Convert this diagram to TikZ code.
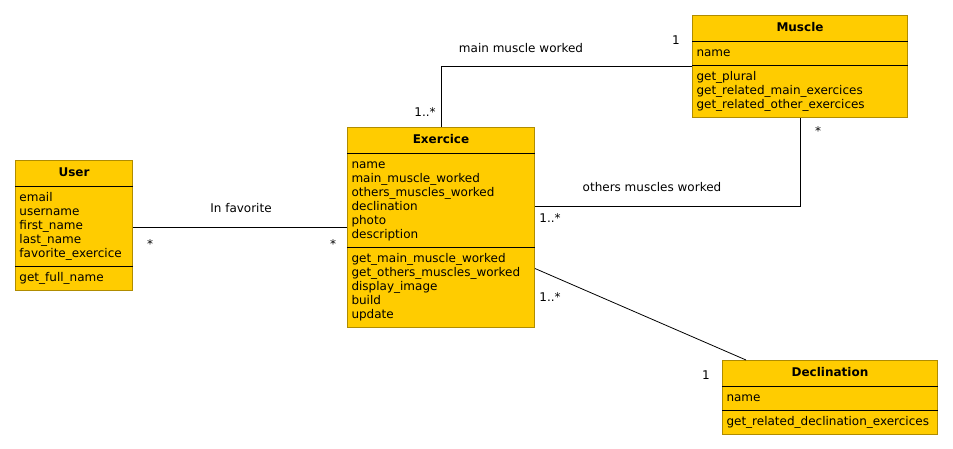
\documentclass[tikz,border=0pt]{standalone}
\usepackage{fontspec}
\setmainfont{DejaVu Sans}
\usetikzlibrary{shapes.multipart}

\definecolor{classfill}{RGB}{255,204,0}
\definecolor{classdraw}{RGB}{176,140,0}

\tikzset{
	umlclass/.style={rectangle split, rectangle split parts=3, rectangle split draw splits=false,
		draw=classdraw, fill=classfill, anchor=north west, align=left,
		inner xsep=4pt, inner ysep=4.5pt, line width=1pt, font=\fontsize{12}{14}\selectfont},
	assoc/.style={draw=black, line width=0.8pt},
	mult/.style={font=\fontsize{12}{14}\selectfont, inner sep=0pt},
}

\newcommand{\classtitle}[1]{\makebox[\hsize][c]{\rule[-5pt]{0pt}{16pt}\textbf{#1}}}

\begin{document}
\begin{tikzpicture}[x=1pt, y=-1pt]

	\useasboundingbox (0,0) rectangle (953,448);

	% CLASSES
	\node[umlclass, text width=109pt] (user) at (15,160) {\classtitle{User}
		\nodepart{second}\strut email\\ username\\ first\_name\\ last\_name\\ favorite\_exercice\strut
		\nodepart{third}\strut get\_full\_name\strut};

	\node[umlclass, text width=179pt] (exercice) at (347,127) {\classtitle{Exercice}
		\nodepart{second}\strut name\\ main\_muscle\_worked\\ others\_muscles\_worked\\ declination\\ photo\\ description\strut
		\nodepart{third}\strut get\_main\_muscle\_worked\\ get\_others\_muscles\_worked\\ display\_image\\ build\\ update\strut};

	\node[umlclass, text width=207pt] (muscle) at (692,15) {\classtitle{Muscle}
		\nodepart{second}\strut name\strut
		\nodepart{third}\strut get\_plural\\ get\_related\_main\_exercices\\ get\_related\_other\_exercices\strut};

	\node[umlclass, text width=207pt] (declination) at (722,360) {\classtitle{Declination}
		\nodepart{second}\strut name\strut
		\nodepart{third}\strut get\_related\_declination\_exercices\strut};

	\foreach \cls in {user, exercice, muscle, declination}
		\draw[line width=0.8pt] (\cls.text split west) -- (\cls.text split east)
			(\cls.second split west) -- (\cls.second split east);

	% ASSOCIATIONS
	\coordinate (othersStart) at ([yshift=21pt]exercice.east);
	\coordinate (declStart) at ([yshift=-41pt]exercice.east);
	\coordinate (declEnd) at ([xshift=-84pt]declination.north);

	\draw[assoc] (user.east |- exercice.west) -- (exercice.west);
	\draw[assoc] (exercice.north) |- (muscle.west);
	\draw[assoc] (othersStart) -| (muscle.south);
	\draw[assoc] (declStart) -- (declEnd);

	% LABELS
	\node[mult] (favLabel) at (241,208) {In favorite};
	\node[mult] (favUser) at (150,244) {*};
	\node[mult] (favExo) at (333,244) {*};

	\node[mult] (mainLabel) at (521,48) {main muscle worked};
	\node[mult] (mainExo) at (425,112) {1..*};
	\node[mult] (mainMuscle) at (676,40) {1};

	\node[mult] (othersLabel) at (652,187) {others muscles worked};
	\node[mult] (othersExo) at (550,218) {1..*};
	\node[mult] (othersMuscle) at (818,131) {*};

	\node[mult] (declExo) at (550,297) {1..*};
	\node[mult] (declDecl) at (706,375) {1};

\end{tikzpicture}
\end{document}
